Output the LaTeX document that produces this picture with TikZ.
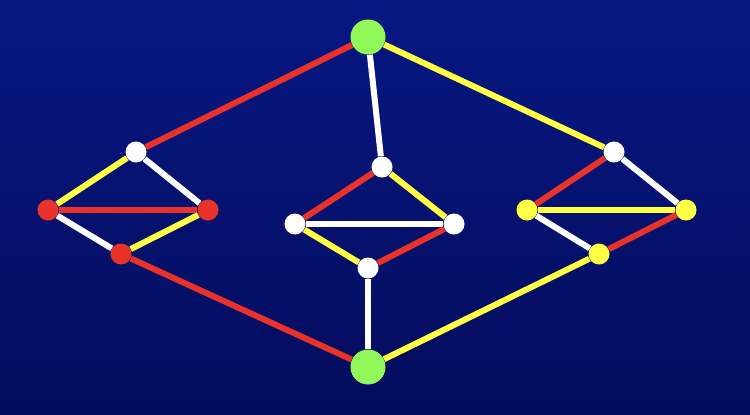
\documentclass[tikz,border=0pt]{standalone}
\usetikzlibrary{shapes}

\definecolor{navytop}{HTML}{081883}
\definecolor{navybot}{HTML}{040C5C}
\definecolor{edgered}{HTML}{E8322A}
\definecolor{edgeyellow}{HTML}{FFFF44}
\definecolor{nodegreen}{HTML}{90F858}

\begin{document}
\begin{tikzpicture}[x=0.02cm,y=-0.02cm]

\def\dotsize{21}
\def\bigsize{35}

\tikzstyle{dot}=[circle,minimum size=\dotsize*0.02cm,inner sep=0pt]
\tikzstyle{whitedot}=[dot,fill=white]
\tikzstyle{reddot}=[dot,fill=edgered]
\tikzstyle{yellowdot}=[dot,fill=edgeyellow]
\tikzstyle{terminal}=[dot,fill=nodegreen,minimum size=\bigsize*0.02cm]
\tikzstyle{link}=[line width=0.12cm]
\tikzstyle{redlink}=[link,edgered]
\tikzstyle{yellowlink}=[link,edgeyellow]
\tikzstyle{whitelink}=[link,white]

% background
\shade[top color=navytop,bottom color=navybot] (0,0) rectangle (750,414);

% top and bottom
\node[terminal] (top) at (368,37) {};
\node[terminal] (bot) at (368,367) {};

% left group
\node[whitedot] (lt) at (136,152) {};
\node[reddot] (ll) at (48,210) {};
\node[reddot] (lr) at (208,210) {};
\node[reddot] (lb) at (121,254) {};

% centre group
\node[whitedot] (ct) at (382,167) {};
\node[whitedot] (cl) at (295,224) {};
\node[whitedot] (cr) at (454,224) {};
\node[whitedot] (cb) at (368,268) {};

% right group
\node[whitedot] (rt) at (614,152) {};
\node[yellowdot] (rl) at (527,210) {};
\node[yellowdot] (rr) at (686,210) {};
\node[yellowdot] (rb) at (599,254) {};

\draw[redlink] (top) -- (lt);
\draw[whitelink] (top) -- (ct);
\draw[yellowlink] (top) -- (rt);
\draw[redlink] (bot) -- (lb);
\draw[whitelink] (bot) -- (cb);
\draw[yellowlink] (bot) -- (rb);

\draw[yellowlink] (lt) -- (ll);
\draw[whitelink] (lt) -- (lr);
\draw[redlink] (ll) -- (lr);
\draw[whitelink] (ll) -- (lb);
\draw[yellowlink] (lb) -- (lr);

\draw[redlink] (ct) -- (cl);
\draw[yellowlink] (ct) -- (cr);
\draw[whitelink] (cl) -- (cr);
\draw[yellowlink] (cl) -- (cb);
\draw[redlink] (cb) -- (cr);

\draw[redlink] (rt) -- (rl);
\draw[whitelink] (rt) -- (rr);
\draw[yellowlink] (rl) -- (rr);
\draw[whitelink] (rl) -- (rb);
\draw[redlink] (rb) -- (rr);

\end{tikzpicture}
\end{document}
